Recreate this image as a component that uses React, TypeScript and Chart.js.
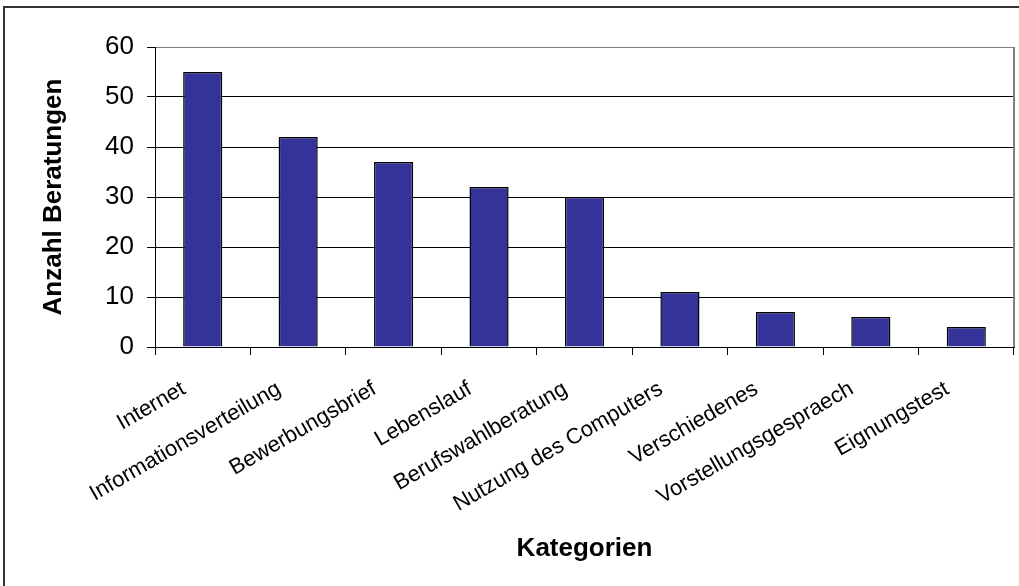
import React, { useEffect, useRef } from "react";
import { Chart, registerables } from "chart.js";

Chart.register(...registerables);

const categories = [
  "Internet",
  "Informationsverteilung",
  "Bewerbungsbrief",
  "Lebenslauf",
  "Berufswahlberatung",
  "Nutzung des Computers",
  "Verschiedenes",
  "Vorstellungsgespraech",
  "Eignungstest",
];
const beratungen = [55, 42, 37, 32, 30, 11, 7, 6, 4];
const yMin = 0;
const yMax = 60;
const yStep = 10;
const xTitle = "Kategorien";
const yTitle = "Anzahl Beratungen";

const W = 1019;
const H = 586;
const FONT = "'Liberation Sans', Arial, sans-serif";

const framePlugin = {
  id: "frame",
  beforeDraw(chart: any) {
    const { ctx } = chart;
    ctx.save();
    ctx.fillStyle = "#ffffff";
    ctx.fillRect(0, 0, W, H);
    ctx.strokeStyle = "#333333";
    ctx.lineWidth = 2;
    ctx.strokeRect(4, 7, W + 20, H + 20);
    ctx.restore();
  },
  afterDraw(chart: any) {
    const { ctx, chartArea } = chart;
    ctx.save();
    ctx.strokeStyle = "#808080";
    ctx.lineWidth = 2;
    ctx.beginPath();
    ctx.moveTo(chartArea.right, chartArea.top);
    ctx.lineTo(chartArea.right, chartArea.bottom);
    ctx.stroke();
    ctx.restore();
  },
};

export default function App() {
  const ref = useRef<HTMLCanvasElement | null>(null);
  useEffect(() => {
    document.body.style.margin = "0";
    const canvas = ref.current;
    if (!canvas) return;
    const chart = new Chart(canvas, {
      type: "bar",
      data: {
        labels: categories,
        datasets: [
          {
            data: beratungen,
            backgroundColor: "#333399",
            borderColor: "#000000",
            borderWidth: 1.5,
            categoryPercentage: 1,
            barPercentage: 0.41,
          },
        ],
      },
      options: {
        animation: false,
        responsive: false,
        devicePixelRatio: 1,
        layout: { padding: { left: 0, top: 47, right: 5, bottom: 0 } },
        plugins: { legend: { display: false }, tooltip: { enabled: false } },
        scales: {
          x: {
            grid: {
              offset: true,
              drawOnChartArea: false,
              drawTicks: true,
              tickLength: 8,
              color: "#000000",
            },
            border: { color: "#000000", width: 1 },
            ticks: {
              autoSkip: false,
              minRotation: 30,
              maxRotation: 30,
              padding: 10,
              color: "#000000",
              font: { family: FONT, size: 22 },
              callback: (_v: any, i: number) => categories[i] + "\u2002\u2002",
            },
            title: {
              display: true,
              text: xTitle,
              color: "#000000",
              font: { family: FONT, size: 26, weight: "bold" },
              padding: { top: 0, bottom: 22 },
            },
            afterFit(scale: any) {
              scale.height = 239;
            },
          },
          y: {
            min: yMin,
            max: yMax,
            ticks: {
              stepSize: yStep,
              padding: 13,
              color: "#000000",
              font: { family: FONT, size: 26 },
            },
            grid: {
              color: (c: any) => (c.tick && c.tick.value === yMax ? "#808080" : "#000000"),
              tickColor: "#000000",
              tickLength: 8,
              lineWidth: 1,
            },
            border: { color: "#000000", width: 1 },
            title: {
              display: true,
              text: yTitle,
              color: "#000000",
              font: { family: FONT, size: 26, weight: "bold" },
              padding: { top: 38, bottom: 0 },
            },
            afterFit(scale: any) {
              scale.width = 155;
            },
          },
        },
      },
      plugins: [framePlugin],
    });
    return () => chart.destroy();
  }, []);
  return (
    <div style={{ width: W, height: H }}>
      <canvas ref={ref} width={W} height={H} style={{ display: "block" }} />
    </div>
  );
}
